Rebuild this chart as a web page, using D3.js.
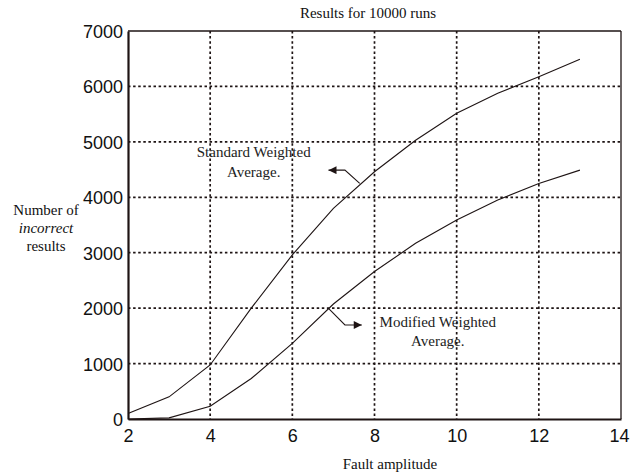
<!DOCTYPE html>
<html>
<head>
<meta charset="utf-8">
<script src="https://cdn.jsdelivr.net/npm/d3@7"></script>
<style>
  html, body { margin: 0; padding: 0; background: #fff; }
  svg { display: block; }
</style>
</head>
<body>
<svg id="chart" width="630" height="474"></svg>
<script>
// Fault amplitude values (x) and number of incorrect results per method
const amplitudes = [2, 3, 4, 5, 6, 7, 8, 9, 10, 11, 12, 13];
const standardWeighted = [100, 400, 975, 2000, 2960, 3800, 4460, 5030, 5515, 5875, 6175, 6490];
const modifiedWeighted = [0, 20, 230, 730, 1365, 2075, 2660, 3170, 3590, 3950, 4250, 4490];

const xTicks = [2, 4, 6, 8, 10, 12, 14];
const yTicks = [0, 1000, 2000, 3000, 4000, 5000, 6000, 7000];

const titleText = "Results for 10000 runs";
const xLabel = "Fault amplitude";
const yLabelLines = ["Number of", "incorrect", "results"];
const standardLabel = ["Standard Weighted", "Average."];
const modifiedLabel = ["Modified Weighted", "Average."];

const svg = d3.select("#chart");
const ink = "#1e1414";
const serif = "'Liberation Serif', 'Times New Roman', serif";
const sans = "'Liberation Sans', Arial, sans-serif";

const plot = { left: 128, right: 621, top: 31, bottom: 419 };

const x = d3.scaleLinear().domain([2, 14]).range([plot.left, plot.right]);
const y = d3.scaleLinear().domain([0, 7000]).range([plot.bottom, plot.top]);

// dotted grid
const grid = svg.append("g").attr("stroke", ink).attr("stroke-width", 1.7)
  .attr("stroke-dasharray", "2.5,2.6");
grid.selectAll("line.v").data(xTicks.slice(1, -1)).join("line")
  .attr("x1", d => x(d)).attr("x2", d => x(d))
  .attr("y1", plot.top).attr("y2", plot.bottom);
grid.selectAll("line.h").data(yTicks.slice(1, -1)).join("line")
  .attr("x1", plot.left).attr("x2", plot.right)
  .attr("y1", d => y(d)).attr("y2", d => y(d));

// frame: heavier left/bottom, lighter top/right
svg.append("line").attr("x1", plot.left).attr("x2", plot.right)
  .attr("y1", plot.top).attr("y2", plot.top).attr("stroke", ink).attr("stroke-width", 1.3);
svg.append("line").attr("x1", plot.right).attr("x2", plot.right)
  .attr("y1", plot.top).attr("y2", plot.bottom).attr("stroke", ink).attr("stroke-width", 1.3);

// axes
const xAxis = svg.append("g").attr("transform", `translate(0,${plot.bottom})`)
  .call(d3.axisBottom(x).tickValues(xTicks).tickSize(0).tickPadding(10).tickFormat(d3.format("d")));
const yAxis = svg.append("g").attr("transform", `translate(${plot.left},0)`)
  .call(d3.axisLeft(y).tickValues(yTicks).tickSize(0).tickPadding(5).tickFormat(d3.format("d")));
[xAxis, yAxis].forEach(a => {
  a.select(".domain").attr("stroke", ink).attr("stroke-width", 2.2);
  a.selectAll("text").attr("font-family", sans).attr("font-size", 18).attr("fill", "#111");
});
yAxis.selectAll("text").attr("dy", "0.36em");
// keep the last x label inside the page edge
xAxis.selectAll(".tick text").filter(d => d === 14).attr("dx", -2);

// data lines
const line = d3.line().x(d => x(d[0])).y(d => y(d[1]));
[standardWeighted, modifiedWeighted].forEach(vals => {
  svg.append("path")
    .datum(amplitudes.map((a, i) => [a, vals[i]]))
    .attr("d", line)
    .attr("fill", "none")
    .attr("stroke", ink)
    .attr("stroke-width", 1.1);
});

// title and axis labels
svg.append("text").attr("x", 368).attr("y", 18).attr("text-anchor", "middle")
  .attr("font-family", serif).attr("font-size", 15).attr("fill", "#111").text(titleText);
svg.append("text").attr("x", 390).attr("y", 469).attr("text-anchor", "middle")
  .attr("font-family", serif).attr("font-size", 15).attr("fill", "#111").text(xLabel);
const yl = svg.append("text").attr("text-anchor", "middle")
  .attr("font-family", serif).attr("font-size", 15).attr("fill", "#111");
yLabelLines.forEach((t, i) => {
  yl.append("tspan").attr("x", 46).attr("y", 215 + i * 18)
    .attr("font-style", i === 1 ? "italic" : "normal").text(t);
});

// annotations with bent arrows
svg.append("defs").append("marker")
  .attr("id", "head").attr("viewBox", "0 0 10 10").attr("refX", 10).attr("refY", 5)
  .attr("markerWidth", 10).attr("markerHeight", 8).attr("markerUnits", "userSpaceOnUse")
  .attr("orient", "auto")
  .append("path").attr("d", "M0,0 L10,5 L0,10 Z").attr("fill", ink);

const arrows = [
  [[7.64, 4252], [7.28, 4490], [6.88, 4490]],
  [[6.88, 1997], [7.28, 1696], [7.69, 1696]]
];
arrows.forEach(pts => {
  svg.append("path").attr("d", line(pts)).attr("fill", "none")
    .attr("stroke", ink).attr("stroke-width", 1.1).attr("marker-end", "url(#head)");
});

function note(lines, cx, cy) {
  const t = svg.append("text").attr("text-anchor", "middle")
    .attr("font-family", serif).attr("font-size", 15).attr("fill", "#222");
  lines.forEach((s, i) => {
    t.append("tspan").attr("x", x(cx)).attr("y", y(cy) + i * 19.5).text(s);
  });
}
note(standardLabel, 5.06, 4720);
note(modifiedLabel, 9.54, 1660);
</script>
</body>
</html>
